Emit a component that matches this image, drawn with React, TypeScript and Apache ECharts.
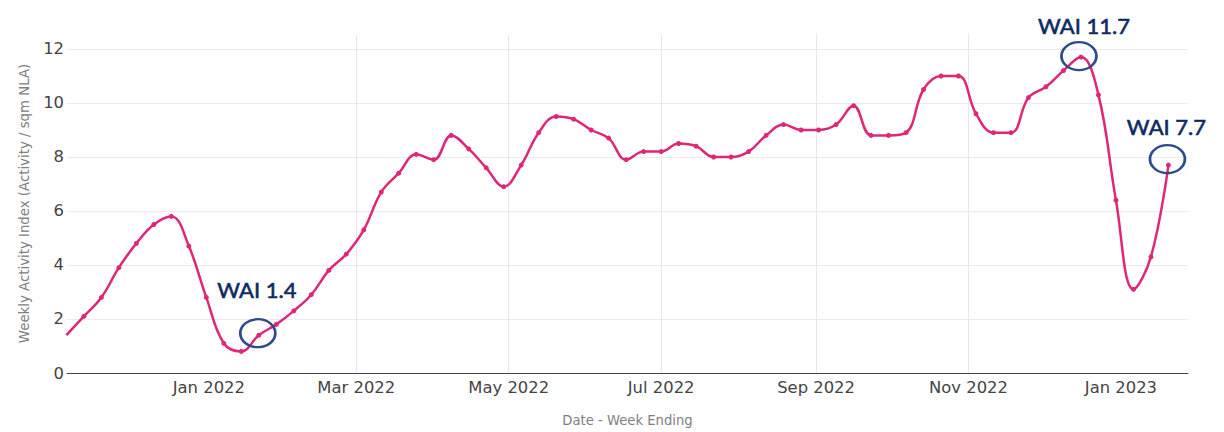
import React, { useEffect, useRef } from "react";
import * as echarts from "echarts";

const weekEnding: string[] = [
  "2021-11-05", "2021-11-12", "2021-11-19", "2021-11-26", "2021-12-03", "2021-12-10", "2021-12-17", "2021-12-24", "2021-12-31",
  "2022-01-07", "2022-01-14", "2022-01-21", "2022-01-28", "2022-02-04", "2022-02-11", "2022-02-18", "2022-02-25",
  "2022-03-04", "2022-03-11", "2022-03-18", "2022-03-25", "2022-04-01", "2022-04-08", "2022-04-15", "2022-04-22", "2022-04-29",
  "2022-05-06", "2022-05-13", "2022-05-20", "2022-05-27", "2022-06-03", "2022-06-10", "2022-06-17", "2022-06-24",
  "2022-07-01", "2022-07-08", "2022-07-15", "2022-07-22", "2022-07-29", "2022-08-05", "2022-08-12", "2022-08-19", "2022-08-26",
  "2022-09-02", "2022-09-09", "2022-09-16", "2022-09-23", "2022-09-30", "2022-10-07", "2022-10-14", "2022-10-21", "2022-10-28",
  "2022-11-04", "2022-11-11", "2022-11-18", "2022-11-25", "2022-12-02", "2022-12-09", "2022-12-16", "2022-12-23", "2022-12-30",
  "2023-01-06", "2023-01-13", "2023-01-20",
];

const wai: number[] = [
  1.4, 2.1, 2.8, 3.9, 4.8, 5.5, 5.8, 4.7, 2.8,
  1.1, 0.8, 1.4, 1.8, 2.3, 2.9, 3.8, 4.4,
  5.3, 6.7, 7.4, 8.1, 7.9, 8.8, 8.3, 7.6, 6.9,
  7.7, 8.9, 9.5, 9.4, 9.0, 8.7, 7.9, 8.2,
  8.2, 8.5, 8.4, 8.0, 8.0, 8.2, 8.8, 9.2, 9.0,
  9.0, 9.2, 9.9, 8.8, 8.8, 8.9, 10.5, 11.0, 11.0,
  9.6, 8.9, 8.9, 10.2, 10.6, 11.2, 11.7, 10.3, 6.4,
  3.1, 4.3, 7.7,
];

const tickDates: string[] = ["2022-01-01", "2022-03-01", "2022-05-01", "2022-07-01", "2022-09-01", "2022-11-01", "2023-01-01"];
const monthNames: string[] = ["Jan", "Feb", "Mar", "Apr", "May", "Jun", "Jul", "Aug", "Sep", "Oct", "Nov", "Dec"];

const calloutIndex: number[] = [11, 58, 63];
const calloutText: string[] = ["WAI 1.4", "WAI 11.7", "WAI 7.7"];

const xMin = "2021-11-05 06:00";
const xMax = "2023-01-27 20:00";
const yMin = 0;
const yMax = 12.555;

function parseLocal(s: string): number {
  const [datePart, timePart] = s.split(" ");
  const [y, m, d] = datePart.split("-").map(Number);
  let hh = 0;
  let mm = 0;
  if (timePart) {
    const t = timePart.split(":").map(Number);
    hh = t[0];
    mm = t[1];
  }
  return new Date(y, m - 1, d, hh, mm).getTime();
}

export default function App() {
  const ref = useRef<HTMLDivElement>(null);

  useEffect(() => {
    if (!ref.current) return;
    const chart = echarts.init(ref.current, null, { renderer: "svg" });
    const lineColor = "#de2777";
    const navy = "#0d2a62";
    const ellipseColor = "#2d4b8b";
    const symbolOffsets: number[][] = [[-1, -2], [-2, -1], [-1, -6]];
    const labelOffsets: number[][] = [[-1, -44], [5, -31], [-1, -33]];

    const seriesData = weekEnding.map((d, i) => [parseLocal(d), wai[i]]);
    const tickValues = tickDates.map(parseLocal);

    chart.setOption({
      animation: false,
      grid: { left: 67, right: 36, top: 34, bottom: 59, containLabel: false },
      xAxis: {
        type: "value",
        min: parseLocal(xMin),
        max: parseLocal(xMax),
        name: "Date - Week Ending",
        nameLocation: "middle",
        nameGap: 41,
        nameTextStyle: { fontFamily: "DejaVu Sans", fontSize: 13.2, color: "#808080" },
        axisLine: { show: true, lineStyle: { color: "#444", width: 1 } },
        axisTick: { show: false, customValues: tickValues },
        axisLabel: {
          customValues: tickValues,
          fontFamily: "DejaVu Sans",
          fontSize: 16.4,
          color: "#444",
          margin: 6,
          formatter: (v: number) => {
            const d = new Date(v);
            return monthNames[d.getMonth()] + " " + d.getFullYear();
          },
        },
        splitLine: { show: true, showMinLine: false, showMaxLine: false, lineStyle: { color: "#e8e8e8", width: 1 } },
      },
      yAxis: {
        type: "value",
        min: yMin,
        max: yMax,
        interval: 2,
        name: "Weekly Activity Index (Activity / sqm NLA)",
        nameLocation: "middle",
        nameGap: 36,
        nameTextStyle: { fontFamily: "DejaVu Sans", fontSize: 13.3, color: "#808080" },
        axisLine: { show: false },
        axisTick: { show: false },
        axisLabel: {
          fontFamily: "DejaVu Sans",
          fontSize: 16.4,
          color: "#444",
          margin: 3,
          showMaxLabel: false,
          formatter: (v: number) => (v % 2 === 0 ? String(v) : ""),
        },
        splitLine: { show: true, showMaxLine: false, lineStyle: { color: "#ebebeb", width: 1 } },
      },
      series: [
        {
          type: "line",
          data: seriesData,
          smooth: 0.4,
          symbol: "circle",
          symbolSize: 5,
          showSymbol: true,
          lineStyle: { color: lineColor, width: 2.5 },
          itemStyle: { color: lineColor },
          clip: true,
          markPoint: {
            silent: true,
            data: calloutIndex.map((idx, k) => ({
              coord: seriesData[idx],
              symbol: "path://M0 50 A50 40 0 1 0 100 50 A50 40 0 1 0 0 50 Z",
              symbolSize: [35, 28],
              symbolOffset: symbolOffsets[k],
              itemStyle: { color: "rgba(0,0,0,0)", borderColor: ellipseColor, borderWidth: 2.5 },
              label: {
                show: true,
                position: "inside",
                offset: labelOffsets[k],
                formatter: calloutText[k],
                fontFamily: "Lato",
                fontWeight: "normal",
                fontSize: 22,
                color: navy,
                textBorderColor: navy,
                textBorderWidth: 0.6,
              },
            })),
          },
        },
      ],
    });

    return () => chart.dispose();
  }, []);

  return (
    <div
      ref={ref}
      style={{ position: "absolute", left: 0, top: 0, width: 1224, height: 432, background: "#fff" }}
    />
  );
}
